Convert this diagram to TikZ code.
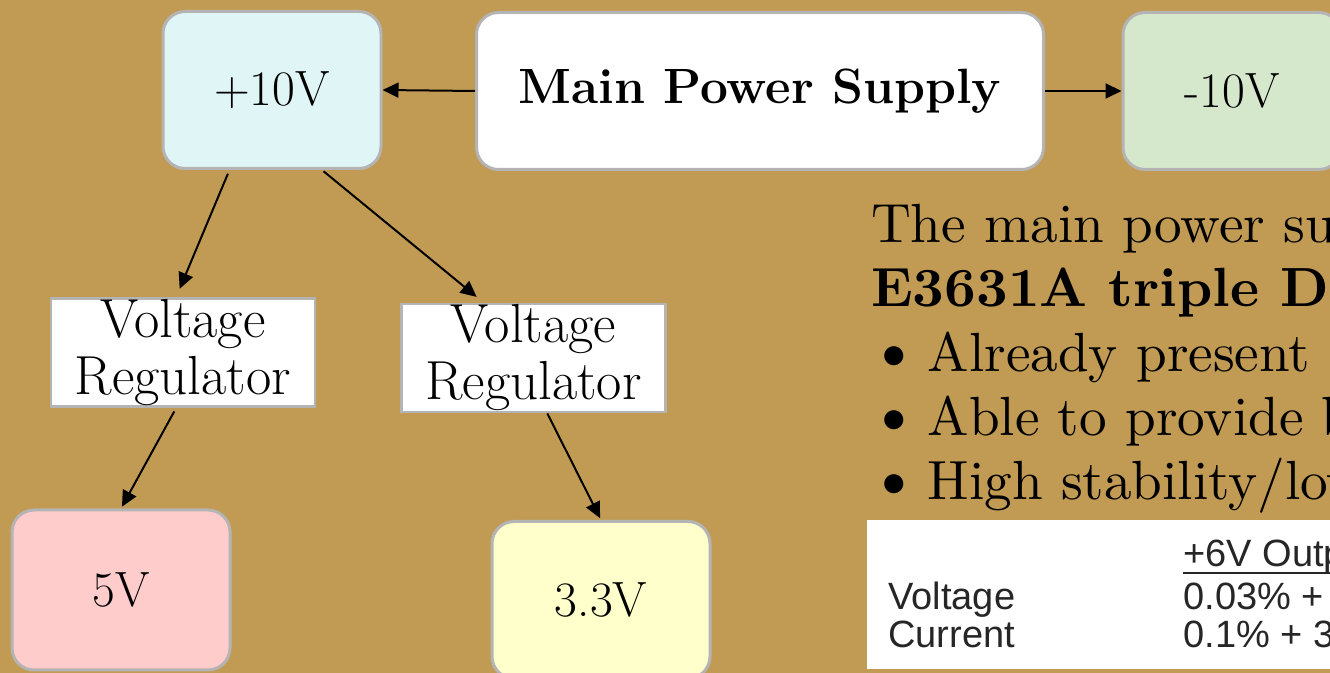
\documentclass[tikz,border=0pt]{standalone}
\usepackage{fontspec}
\newfontfamily\tablefont{Liberation Sans}
\usetikzlibrary{arrows.meta,positioning,calc}
\definecolor{bggold}{RGB}{193,155,83}
\definecolor{boxgray}{RGB}{180,180,180}
\definecolor{cyanbox}{RGB}{224,245,245}
\definecolor{greenbox}{RGB}{213,232,204}
\definecolor{redbox}{RGB}{255,204,204}
\definecolor{yellowbox}{RGB}{255,255,204}

\begin{document}
\begin{tikzpicture}[x=0.5pt,y=-0.5pt,
  box/.style={draw=boxgray, line width=1.5pt, rounded corners=11pt, minimum width=109pt, minimum height=78.5pt, font=\fontsize{24.8}{29}\selectfont},
  reg/.style={draw=boxgray, line width=1.2pt, fill=white, minimum width=132pt, minimum height=54pt, inner sep=0.5pt, align=center, font=\fontsize{27.5}{28.5}\selectfont},
  feed/.style={line width=1pt, -{Triangle[length=8pt,width=7.5pt]}},
  txt/.style={anchor=base west, inner sep=0pt, scale=2.76, transform shape, font=\fontsize{10}{12}\selectfont},
  tab/.style={anchor=base west, inner sep=0pt, text=black!85, font=\tablefont\fontsize{19}{19}\selectfont}]
\path[use as bounding box, clip] (0,0) rectangle (1330,673);
\fill[bggold] (0,0) rectangle (1330,673);

% supply and rails
\node[box, fill=white, minimum width=283.5pt] (main) at (760,91) {\textbf{Main Power Supply}};
\node[box, fill=cyanbox] (p10) at (272,90) {+10V};
\node[box, fill=greenbox] (m10) at (1232,91) {-10V};
\node[reg] (vr1) at (183,352.5) {Voltage\\Regulator};
\node[reg] (vr2) at (533.5,358) {Voltage\\Regulator};
\node[box, fill=redbox, minimum height=80pt] (v5) at (121,590) {5V};
\node[box, fill=yellowbox] (v33) at (601,600) {3.3V};

\draw[feed] (main.west) -- (p10.east);
\draw[feed] (main.east) -- (m10.west);
\draw[feed, shorten <=2pt, shorten >=4.5pt] (p10.242) -- (vr1.97);
\draw[feed, shorten <=1pt, shorten >=4.5pt] (p10.302) -- (vr2.132);
\draw[feed, shorten <=2pt, shorten >=1pt] (vr1.263) -- (v5.north);
\draw[feed, shorten >=1pt] (vr2.284) -- (v33.north);

% description
\node[txt] (l1) at (870,243) {The main power supply};
\node[txt] (l2) at (870,307) {\textbf{E3631A triple DC}};
\foreach \y/\t [count=\i from 3] in {372/Already present, 436/Able to provide both, 500/{High stability/low}}
  \node[txt] (l\i) at (867,\y) {\makebox[10.8pt][l]{\scalebox{1.2}{\textbullet}}\t};

% spec table
\fill[white] (867,520) rectangle (1340,669);
\node[tab] (hd) at (1183,567) {+6V Output};
\draw[line width=1.4pt, black!85] ([yshift=-3pt]hd.base west) -- ([yshift=-3pt]hd.base east);
\node[tab] (rv) at (888,610) {Voltage};
\node[tab] (rc) at (888,648) {Current};
\node[tab] (cv) at (1183,610) {0.03\% +};
\node[tab] (cc) at (1183,648) {0.1\% + 3};
\end{tikzpicture}
\end{document}
